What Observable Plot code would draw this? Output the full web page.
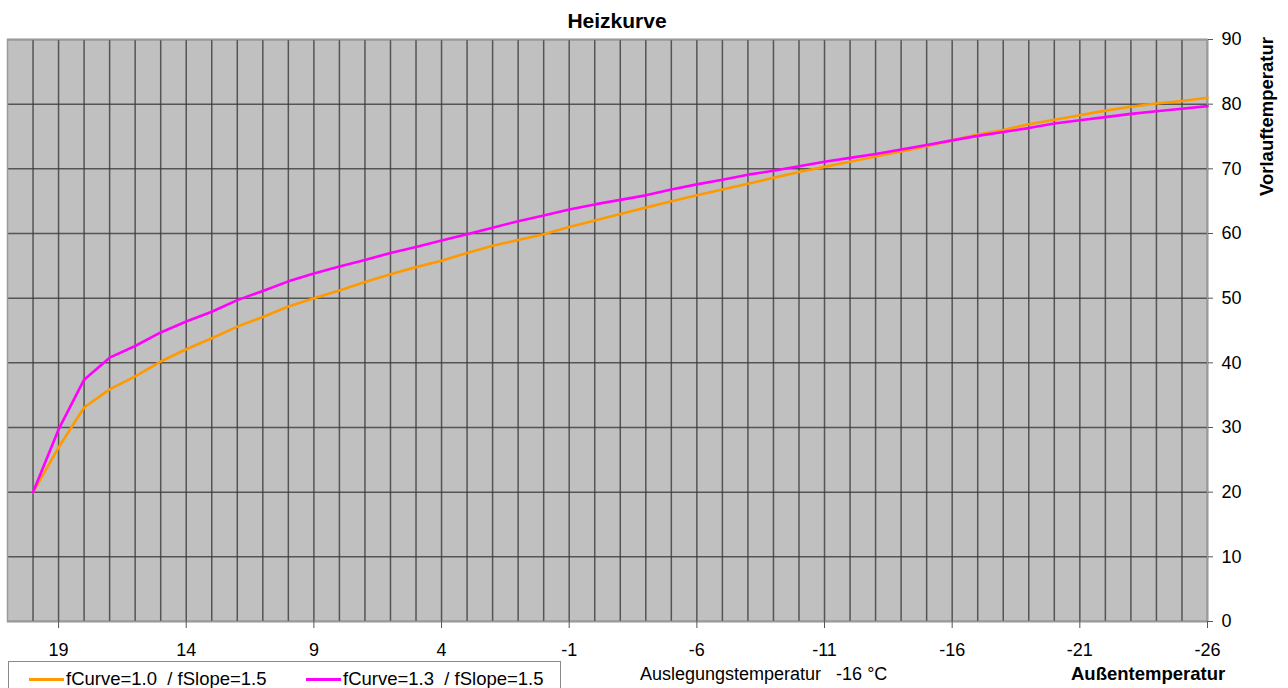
<!DOCTYPE html>
<html>
<head>
<meta charset="utf-8">
<script src="https://cdn.jsdelivr.net/npm/d3@7"></script>
<script src="https://cdn.jsdelivr.net/npm/@observablehq/plot@0.6"></script>
<style>
  html, body { margin: 0; padding: 0; background: #fff; }
  body { width: 1288px; height: 688px; overflow: hidden; position: relative;
         font-family: "Liberation Sans", Arial, sans-serif; color: #000; }
  #chart { position: absolute; left: 0; top: 0; }
  .lbl { position: absolute; white-space: pre; line-height: 1; }
  #legend { position: absolute; left: 8px; top: 661px; width: 553px; height: 40px;
            border: 1px solid #8a8a8a; box-sizing: border-box; background: #fff; }
  .item { position: absolute; top: 7px; font-size: 18.5px; white-space: pre; line-height: 19px; }
  .sw { display: inline-block; width: 35px; height: 3px; vertical-align: middle; margin-right: 2px; position: relative; top: -1px; }
</style>
</head>
<body>
<div id="chart"></div>
<div class="lbl" style="left:0;width:1234px;top:10px;text-align:center;font-size:21px;font-weight:bold;">Heizkurve</div>
<div class="lbl" style="left:1071px;top:665px;font-size:18.5px;font-weight:bold;">Außentemperatur</div>
<div class="lbl" style="left:640px;top:665px;font-size:18px;">Auslegungstemperatur   -16 °C</div>
<div class="lbl" style="left:1258px;top:196px;font-size:18.5px;font-weight:bold;transform-origin:0 0;transform:rotate(-90deg);">Vorlauftemperatur</div>
<div id="legend"></div>
<script>
// Outside temperature categories (°C)
const temps = [20, 19, 18, 17, 16, 15, 14, 13, 12, 11, 10, 9, 8, 7, 6, 5, 4, 3, 2, 1, 0,
  -1, -2, -3, -4, -5, -6, -7, -8, -9, -10, -11, -12, -13, -14,
  -15, -16, -17, -18, -19, -20, -21, -22, -23, -24, -25, -26];

// fCurve=1.0 / fSlope=1.5
const curveA = [20, 26.9, 33.1, 35.9, 37.9, 40.2, 42.1, 43.8, 45.6, 47.1, 48.7, 50.0,
  51.2, 52.5, 53.7, 54.8, 55.8, 57.0, 58.1, 59.0, 59.9,
  61.0, 62.0, 63.0, 64.0, 65.0, 65.9, 66.8, 67.7, 68.6, 69.5, 70.3, 71.1, 71.9, 72.7,
  73.5, 74.4, 75.3, 76.0, 76.9, 77.6, 78.3, 79.0, 79.6, 80.1, 80.5, 81.0];

// fCurve=1.3 / fSlope=1.5
const curveB = [20, 29.7, 37.4, 40.8, 42.6, 44.7, 46.4, 47.9, 49.7, 51.1, 52.6, 53.8,
  54.9, 55.9, 57.0, 57.9, 58.9, 59.9, 60.9, 61.9, 62.8,
  63.7, 64.5, 65.2, 65.9, 66.8, 67.6, 68.3, 69.1, 69.7, 70.4, 71.1, 71.7, 72.3, 73.0,
  73.7, 74.4, 75.1, 75.7, 76.3, 77.0, 77.5, 78.0, 78.5, 78.9, 79.3, 79.7];

const seriesNames = ["fCurve=1.0  / fSlope=1.5", "fCurve=1.3  / fSlope=1.5"];
const seriesColors = ["#ff9900", "#ff00ff"];

const xTicks = [19, 14, 9, 4, -1, -6, -11, -16, -21, -26];
const yTicks = [0, 10, 20, 30, 40, 50, 60, 70, 80, 90];

const rowsA = temps.map((t, i) => ({t, v: curveA[i]}));
const rowsB = temps.map((t, i) => ({t, v: curveB[i]}));

const chart = Plot.plot({
  width: 1288,
  height: 688,
  marginTop: 39,
  marginBottom: 67,
  marginLeft: 7,
  marginRight: 81,
  x: {type: "linear", domain: [21, -26]},
  y: {type: "linear", domain: [0, 90]},
  style: {background: "transparent", fontFamily: "'Liberation Sans', Arial, sans-serif", fontSize: "18px", color: "#000"},
  marks: [
    Plot.frame({fill: "#c0c0c0", stroke: null}),
    Plot.gridX(temps, {stroke: "#3a3a3a", strokeOpacity: 0.8, strokeWidth: 1.5}),
    Plot.gridY(yTicks, {stroke: "#3a3a3a", strokeOpacity: 0.8, strokeWidth: 1.5}),
    Plot.frame({stroke: "#9a9a9a", strokeWidth: 1.5}),
    Plot.axisX(xTicks, {anchor: "bottom", tickSize: 7, tickPadding: 15, label: null, stroke: "#555", fill: "#000", tickFormat: d => String(d).replace("\u2212", "-")}),
    Plot.axisY(yTicks, {anchor: "right", tickSize: 5, tickPadding: 9, label: null, stroke: "#555", fill: "#000"}),
    Plot.line(rowsA, {x: "t", y: "v", stroke: seriesColors[0], strokeWidth: 2.6, curve: "linear"}),
    Plot.line(rowsB, {x: "t", y: "v", stroke: seriesColors[1], strokeWidth: 2.6, curve: "linear"})
  ]
});
document.getElementById("chart").appendChild(chart);

// Legend
const legend = document.getElementById("legend");
const lefts = [20, 297];
seriesNames.forEach((name, i) => {
  const item = document.createElement("div");
  item.className = "item";
  item.style.left = lefts[i] + "px";
  const sw = document.createElement("span");
  sw.className = "sw";
  sw.style.background = seriesColors[i];
  item.appendChild(sw);
  item.appendChild(document.createTextNode(name));
  legend.appendChild(item);
});
</script>
</body>
</html>
